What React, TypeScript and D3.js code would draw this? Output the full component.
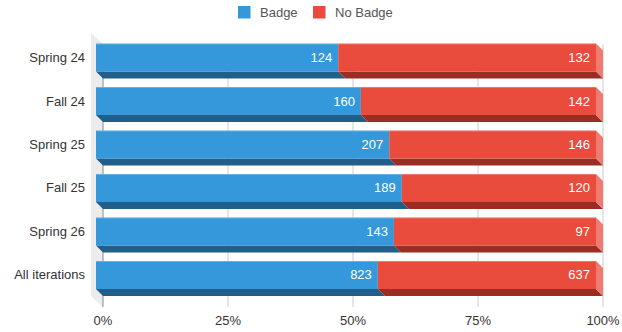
import React from "react";
import * as d3 from "d3";

const categories = ["Spring 24", "Fall 24", "Spring 25", "Fall 25", "Spring 26", "All iterations"];
const badge = [124, 160, 207, 189, 143, 823];
const noBadge = [132, 142, 146, 120, 97, 637];
const seriesNames = ["Badge", "No Badge"];
const tickValues = [0, 0.25, 0.5, 0.75, 1];

const W = 622;
const H = 332;
const D = 7; // bar depth offset
const font = "'Liberation Sans', Arial, sans-serif";

const colors = [
  { front: "#3498db", bottom: "#215f8a", side: "#6fb5e6" },
  { front: "#e94b3c", bottom: "#9a2e24", side: "#ef7b70" },
];

export default function App() {
  const x = d3.scaleLinear().domain([0, 1]).range([96, 596]);
  const y = d3.scaleBand<string>().domain(categories).range([43.5, 289]).paddingInner(0.356).paddingOuter(0);
  const bw = y.bandwidth();
  const fmt = d3.format(".0%");

  const stackData = categories.map((c, i) => {
    const tot = badge[i] + noBadge[i];
    const vals = [badge[i], noBadge[i]];
    let acc = 0;
    return vals.map((v, k) => {
      const s = acc / tot;
      acc += v;
      return { c, v, k, x0: s, x1: acc / tot };
    });
  });

  const backTop = 44;
  const backBottom = 307;
  const wallX = x(0) + D;

  return (
    <svg width={W} height={H} style={{ position: "absolute", left: 0, top: 0 }} fontFamily={font}>
      {/* legend */}
      <g>
        <rect x={238} y={6} width={12.5} height={12.5} fill={colors[0].front} />
        <text x={260} y={16.5} fontSize={13} fill="#555">{seriesNames[0]}</text>
        <rect x={313} y={6} width={12.5} height={12.5} fill={colors[1].front} />
        <text x={335} y={16.5} fontSize={13} fill="#555">{seriesNames[1]}</text>
      </g>
      {/* left wall */}
      <polygon
        points={`${wallX - 12},${backTop - 11} ${wallX},${backTop} ${wallX},${backBottom} ${wallX - 12},${backBottom - 11}`}
        fill="#ececec"
      />
      {/* gridlines */}
      {tickValues.map((t) => (
        <line
          key={t}
          x1={x(t) + D}
          x2={x(t) + D}
          y1={backTop}
          y2={backBottom}
          stroke={t === 0 ? "#8a8a8a" : "#cccccc"}
          strokeWidth={1}
        />
      ))}
      {/* tick labels */}
      {tickValues.map((t) => (
        <text key={t} x={x(t) + D} y={325} textAnchor="middle" fontSize={13} fill="#333">
          {fmt(t)}
        </text>
      ))}
      {/* category labels */}
      {categories.map((c) => (
        <text key={c} x={85} y={(y(c) as number) + bw / 2 + 4.5} textAnchor="end" fontSize={13} fill="#333">
          {c}
        </text>
      ))}
      {/* bars */}
      {stackData.map((segs, i) => {
        const top = y(categories[i]) as number;
        const bot = top + bw;
        return (
          <g key={i}>
            {segs.map((s) => {
              const a = x(s.x0);
              const b = x(s.x1);
              return (
                <polygon
                  key={"b" + s.k}
                  points={`${a},${bot} ${b},${bot} ${b + D},${bot + D} ${a + D},${bot + D}`}
                  fill={colors[s.k].bottom}
                />
              );
            })}
            {(() => {
              const last = segs[segs.length - 1];
              const b = x(last.x1);
              return (
                <polygon
                  points={`${b},${top} ${b + D},${top + D} ${b + D},${bot + D} ${b},${bot}`}
                  fill={colors[last.k].side}
                />
              );
            })()}
            {segs.map((s) => {
              const a = x(s.x0);
              const b = x(s.x1);
              return (
                <g key={"f" + s.k}>
                  <rect x={a} y={top} width={b - a} height={bw} fill={colors[s.k].front} />
                  <line x1={a} x2={b} y1={top + 0.5} y2={top + 0.5} stroke="#ffffff" strokeOpacity={0.25} />
                  <text x={b - 6} y={top + bw / 2 + 4.5} textAnchor="end" fontSize={13} fill="#ffffff">
                    {s.v}
                  </text>
                </g>
              );
            })}
          </g>
        );
      })}
    </svg>
  );
}
